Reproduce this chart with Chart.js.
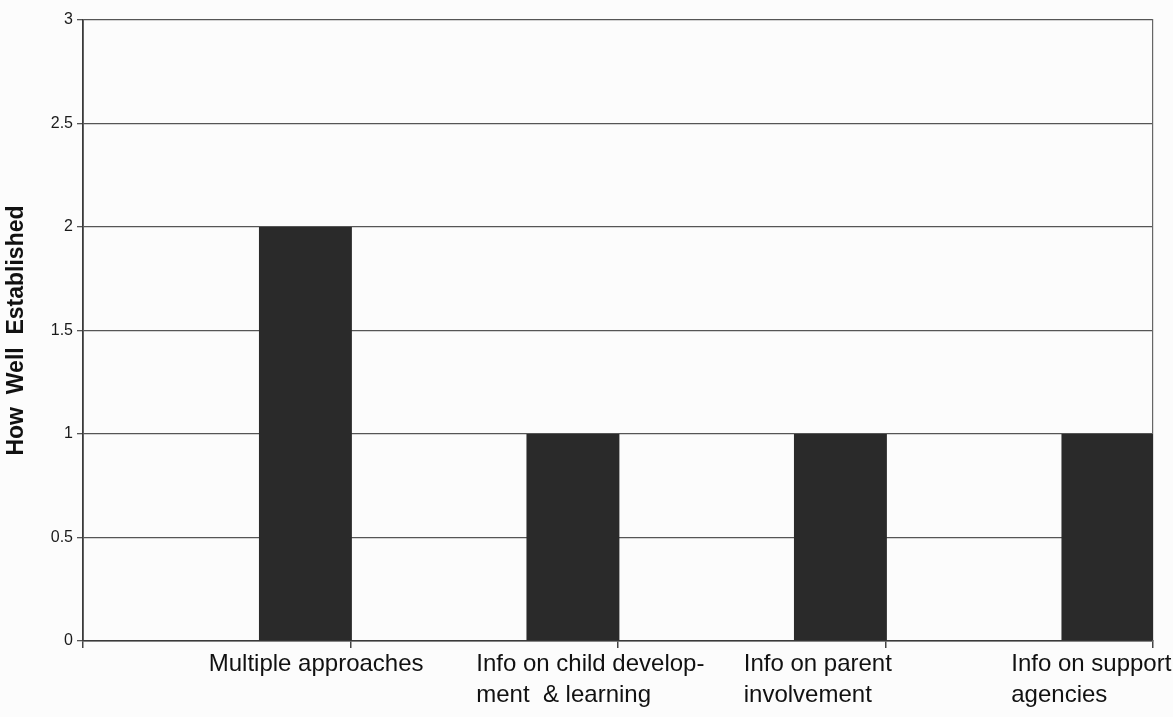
<!DOCTYPE html>
<html>
<head>
<meta charset="utf-8">
<script src="https://cdn.jsdelivr.net/npm/chart.js@4.4.1/dist/chart.umd.min.js"></script>
<style>
  html, body { margin: 0; padding: 0; background: #fcfcfc; }
</style>
</head>
<body>
<canvas id="chart" width="1173" height="717"></canvas>
<script>
const categories = [
  ["Multiple approaches"],
  ["Info on child develop-", "ment  & learning"],
  ["Info on parent", "involvement"],
  ["Info on support", "agencies"],
];
const establishedValues = [2, 1, 1, 1];
// empty first series, the bars sit in the right half of each category
const spacerValues = [0, 0, 0, 0];
const yTicks = [0, 0.5, 1, 1.5, 2, 2.5, 3];
const yTitle = "How  Well  Established";

Chart.defaults.font.family = "'Liberation Sans', Arial, sans-serif";
Chart.defaults.color = "#1a1a1a";

const ctx = document.getElementById("chart").getContext("2d");
new Chart(ctx, {
  type: "bar",
  data: {
    labels: categories,
    datasets: [
      {
        label: "",
        data: spacerValues,
        backgroundColor: "rgba(0,0,0,0)",
        borderWidth: 0,
      },
      {
        label: "How Well Established",
        data: establishedValues,
        backgroundColor: "#2a2a2a",
        borderWidth: 0,
      },
    ],
  },
  options: {
    responsive: false,
    animation: false,
    categoryPercentage: 1.326,
    barPercentage: 0.524,
    layout: { padding: { top: 20, right: 20, left: 0, bottom: 0 } },
    plugins: {
      legend: { display: false },
      tooltip: { enabled: false },
    },
    scales: {
      x: {
        offset: true,
        grid: {
          offset: true,
          drawOnChartArea: false,
          drawTicks: true,
          tickLength: 7,
          color: "#444",
          lineWidth: 1.5,
        },
        border: { display: true, color: "#3a3a3a", width: 1.6 },
        ticks: {
          autoSkip: false,
          maxRotation: 0,
          align: "start",
          labelOffset: -8,
          padding: 1,
          color: "#111",
          font: { size: 24, lineHeight: 1.3 },
        },
        afterFit: (scale) => {
          scale.height = 76;
          scale.paddingLeft = 0;
          scale.paddingRight = 0;
        },
      },
      y: {
        min: 0,
        max: 3,
        afterBuildTicks: (scale) => {
          scale.ticks = yTicks.map((v) => ({ value: v }));
        },
        afterFit: (scale) => {
          scale.width = 83;
        },
        grid: {
          color: "#555",
          lineWidth: 1.3,
          drawTicks: true,
          tickLength: 6,
        },
        border: { display: true, color: "#3a3a3a", width: 1.8 },
        ticks: {
          padding: 4,
          color: "#1a1a1a",
          font: { size: 16 },
          callback: (value) => String(value),
        },
        title: {
          display: true,
          text: yTitle,
          color: "#111",
          padding: { top: 3, bottom: 0 },
          font: { size: 23, weight: "bold" },
        },
      },
      y2: {
        position: "right",
        display: true,
        ticks: { display: false },
        grid: { drawOnChartArea: false, drawTicks: false },
        border: { display: true, color: "#666", width: 1.2 },
      },
    },
  },
});
</script>
</body>
</html>
